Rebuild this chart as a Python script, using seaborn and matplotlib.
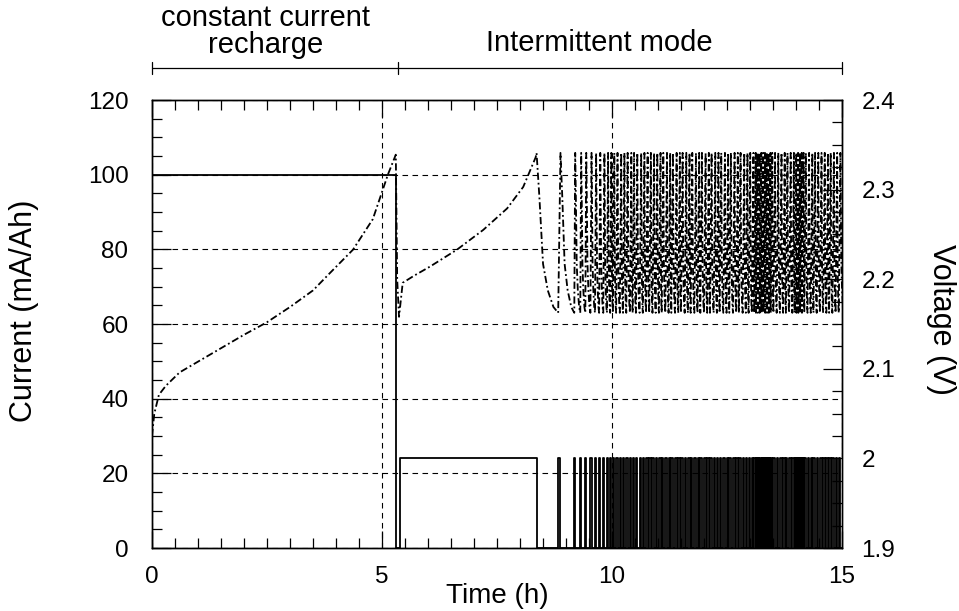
import matplotlib
matplotlib.use("Agg")
import matplotlib.pyplot as plt
import matplotlib.transforms as mtransforms
from matplotlib.ticker import MultipleLocator
import seaborn as sns

# constant current recharge (100 mA/Ah), voltage
cc_time = [0.0, 0.05, 0.15, 0.3, 0.6, 1.0, 1.5, 2.0, 2.5, 3.0, 3.5, 3.87, 4.37, 4.8, 5.13, 5.30]
cc_volt = [2.025, 2.05, 2.071, 2.081, 2.096, 2.108, 2.123, 2.138, 2.152, 2.169, 2.1875,
           2.207, 2.233, 2.267, 2.317, 2.339]
cc_current = 100
cc_end = 5.30

# voltage during the first (long) intermittent pulse
first_time = [5.33, 5.37, 5.45, 5.7, 6.04, 6.63, 7.2, 7.72, 8.07, 8.34]
first_volt = [2.20, 2.158, 2.196, 2.204, 2.214, 2.233, 2.255, 2.279, 2.303, 2.336]

# shape of the voltage decay during a rest (fraction of the rest, volts)
decay_frac = [0.0, 0.13, 0.3, 0.52, 0.78, 1.0]
decay_volt = [2.341, 2.292, 2.217, 2.1875, 2.169, 2.1625]
v_cutoff = 2.341

# intermittent mode: 24 mA/Ah pulses
pulse_current = 24
pulse_on = [5.39, 8.83, 9.18, 9.31, 9.42, 9.53, 9.63, 9.72, 9.81, 9.89,
            9.96, 10.02, 10.09, 10.17, 10.24, 10.31, 10.39, 10.45, 10.52, 10.60,
            10.67, 10.74,
            10.81, 10.88, 10.95, 11.02, 11.08, 11.16, 11.23, 11.29, 11.37, 11.44,
            11.50, 11.58, 11.65, 11.71, 11.79, 11.86, 11.92, 12.00, 12.07, 12.13,
            12.21, 12.28, 12.34, 12.42, 12.49, 12.55, 12.63, 12.70, 12.76, 12.84,
            12.91, 12.97, 13.04,
            13.09, 13.13, 13.17, 13.21, 13.25, 13.29, 13.33, 13.37, 13.41, 13.45,
            13.51, 13.58, 13.65, 13.72, 13.78, 13.85, 13.92, 13.97, 14.01, 14.05,
            14.09, 14.13, 14.18, 14.25, 14.32, 14.38, 14.45, 14.52, 14.59, 14.66,
            14.72, 14.79, 14.86, 14.93]
pulse_off = [8.36, 8.88, 9.20, 9.33, 9.44, 9.555, 9.655, 9.745, 9.835, 9.915,
             9.985, 10.05, 10.12, 10.20, 10.27, 10.34, 10.42, 10.48, 10.55, 10.635,
             10.705, 10.775,
             10.845, 10.915, 10.985, 11.055, 11.115, 11.195, 11.265, 11.325, 11.405, 11.475,
             11.535, 11.615, 11.685, 11.745, 11.825, 11.895, 11.955, 12.035, 12.105, 12.165,
             12.245, 12.315, 12.375, 12.455, 12.525, 12.585, 12.665, 12.735, 12.795, 12.875,
             12.945, 13.005, 13.075,
             13.125, 13.165, 13.205, 13.245, 13.285, 13.325, 13.365, 13.405, 13.445, 13.485,
             13.545, 13.615, 13.685, 13.755, 13.815, 13.885, 13.955, 14.005, 14.045, 14.085,
             14.125, 14.165, 14.215, 14.285, 14.355, 14.415, 14.485, 14.555, 14.625, 14.695,
             14.755, 14.825, 14.895, 14.965]
t_end = 15.0
mode_switch = 5.35

x_ticks = [0, 5, 10, 15]
i_ticks = [0, 20, 40, 60, 80, 100, 120]
v_ticks = [1.9, 2.0, 2.1, 2.2, 2.3, 2.4]
v_labels = ["1.9", "2", "2.1", "2.2", "2.3", "2.4"]

# current trace (step)
cur_t = [0.0, cc_end]
cur_i = [cc_current, 0]
for on, off in zip(pulse_on, pulse_off):
    cur_t += [on, off]
    cur_i += [pulse_current, 0]
cur_t.append(t_end)
cur_i.append(0)

# voltage trace
v_t = cc_time + first_time + [pulse_off[0]]
v_v = cc_volt + first_volt + [v_cutoff]
for k in range(1, len(pulse_on)):
    rest0, rest1 = pulse_off[k - 1], pulse_on[k]
    for f, v in zip(decay_frac[1:], decay_volt[1:]):
        v_t.append(rest0 + f * (rest1 - rest0))
        v_v.append(v)
    v_t.append(pulse_off[k])
    v_v.append(v_cutoff)
for f, v in zip(decay_frac[1:], decay_volt[1:]):
    v_t.append(pulse_off[-1] + f * 0.07)
    v_v.append(v)

sns.set_style("ticks")
plt.rcParams['font.family'] = ['Liberation Sans', 'DejaVu Sans']
plt.rcParams['text.color'] = 'black'
plt.rcParams['axes.labelcolor'] = 'black'
plt.rcParams['xtick.color'] = 'black'
plt.rcParams['ytick.color'] = 'black'

fig = plt.figure(figsize=(9.59, 6.11), dpi=100)
ax = fig.add_axes([0.1585, 0.1031, 0.7195, 0.7332])

sns.lineplot(x=cur_t, y=cur_i, ax=ax, color='black', lw=1.3, drawstyle='steps-post',
             estimator=None, sort=False)
ax.set_xlim(0, 15)
ax.set_ylim(0, 120)
ax.set_xticks(x_ticks)
ax.set_yticks(i_ticks)
ax.xaxis.set_minor_locator(MultipleLocator(0.5))
ax.yaxis.set_minor_locator(MultipleLocator(5))
ax.grid(True, which='major', color='black', lw=0.8, ls=(0, (5, 4)))

ax2 = ax.twinx()
sns.lineplot(x=v_t, y=v_v, ax=ax2, color='black', lw=1.3, linestyle=(0, (4, 1.6, 1, 1.6)),
             estimator=None, sort=False)
ax2.set_ylim(1.9, 2.4)
ax2.set_yticks(v_ticks)
ax2.set_yticklabels(v_labels)
ax2.yaxis.set_minor_locator(MultipleLocator(0.025))

for a in (ax, ax2):
    for s in a.spines.values():
        s.set_visible(True)
        s.set_color('black')
        s.set_linewidth(1.0)

ax.tick_params(which='both', direction='in', top=True, right=False, labelsize=17.5,
               color='black', labelcolor='black', width=0.9)
ax.tick_params(axis='x', which='major', length=12, pad=13)
ax.tick_params(axis='y', which='major', length=14, pad=17)
ax.tick_params(which='minor', length=7)
ax2.tick_params(which='both', direction='in', labelsize=17.5, color='black',
                labelcolor='black', width=0.9)
ax2.tick_params(which='major', length=14, pad=14)
ax2.tick_params(which='minor', length=7)

ax.set_xlabel('Time (h)', fontsize=20, color='black')
ax.set_ylabel('Current (mA/Ah)', fontsize=22, color='black')
ax2.set_ylabel('Voltage (V)', fontsize=22, rotation=270, color='black')
ax.xaxis.set_label_coords(0.5, -0.107)
ax.yaxis.set_label_coords(-0.185, 0.53)
ax2.yaxis.set_label_coords(1.144, 0.51)
ax.xaxis.label.set_va('center')
ax.yaxis.label.set_va('center')
ax2.yaxis.label.set_va('center')

# mode bracket on top
trans = mtransforms.blended_transform_factory(ax.transData, ax.transAxes)
ax.plot([0, t_end], [1.071, 1.071], transform=trans, clip_on=False, color='black', lw=0.9)
for xb in [0, mode_switch, t_end]:
    ax.plot([xb, xb], [1.058, 1.084], transform=trans, clip_on=False, color='black', lw=0.9)
ax.text(2.46, 1.152, "constant current\nrecharge", transform=trans, ha='center', va='center',
        fontsize=21, linespacing=0.95, color='black')
ax.text(9.72, 1.127, "Intermittent mode", transform=trans, ha='center', va='center',
        fontsize=21, color='black')

fig.savefig('out.png', dpi=100)
